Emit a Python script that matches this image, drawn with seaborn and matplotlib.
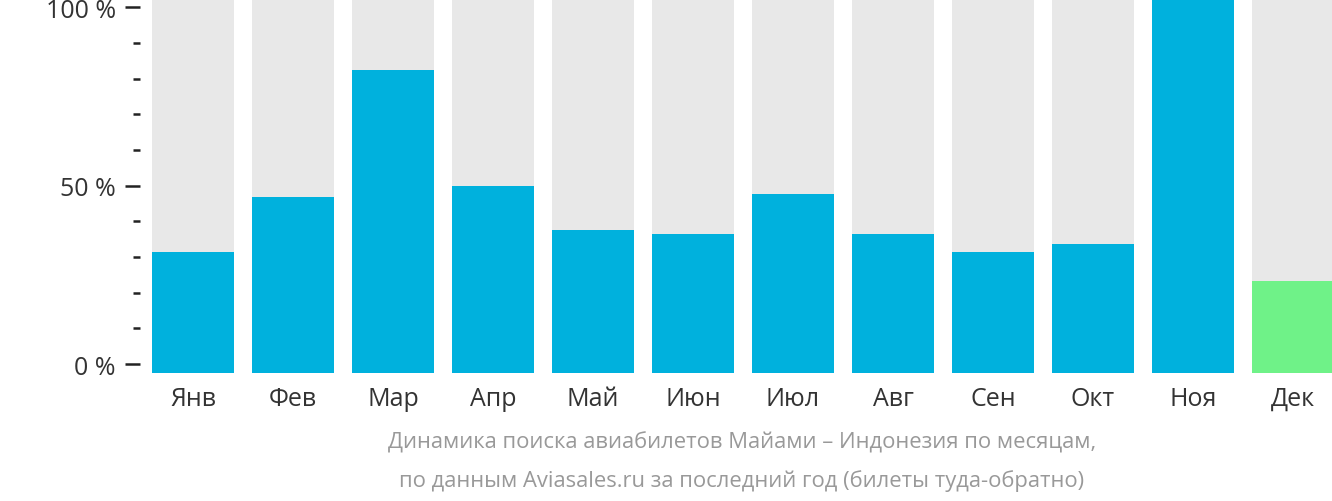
import matplotlib
matplotlib.use("Agg")
import matplotlib.pyplot as plt
import numpy as np
import pandas as pd
import seaborn as sns
from matplotlib.ticker import MultipleLocator, FuncFormatter

months = ['Янв', 'Фев', 'Мар', 'Апр', 'Май', 'Июн', 'Июл', 'Авг', 'Сен', 'Окт', 'Ноя', 'Дек']
share = [31.4, 46.8, 82.4, 49.9, 37.6, 36.4, 47.7, 36.4, 31.4, 33.6, 102.4, 23.3]
current = 'Дек'   # highlighted month
full = [110] * len(months)

blue = '#00b1dd'
green = '#6ff288'
grey = '#e8e8e8'

sns.set_theme(style='white')
plt.rcParams['font.family'] = ['Open Sans', 'DejaVu Sans']

df = pd.DataFrame({'month': months, 'share': share, 'full': full})
pal = {m: (green if m == current else blue) for m in months}

fig = plt.figure(figsize=(13.32, 5.02), dpi=100)
ax = fig.add_axes([152 / 1332, 128 / 502, 1180 / 1332, 374 / 502])

sns.barplot(data=df, x='month', y='full', color=grey, width=0.82, ax=ax, saturation=1)
sns.barplot(data=df, x='month', y='share', hue='month', palette=pal, width=0.82,
            ax=ax, saturation=1, legend=False)

# bars start a little below the zero line
base = -2.52
for p in ax.patches:
    p.set_y(base)
    p.set_height(p.get_height() - base)
    p.set_linewidth(0)

ax.set_xlim(-0.41, 11.39)
ax.set_ylim(base, 102.33)

for s in ax.spines.values():
    s.set_visible(False)
ax.spines['left'].set_position(('outward', 9))

ax.yaxis.set_major_locator(MultipleLocator(50))
ax.yaxis.set_minor_locator(MultipleLocator(10))
ax.yaxis.set_major_formatter(FuncFormatter(lambda v, _: f'{int(v)} %'))
ax.tick_params(axis='y', which='major', left=True, length=11, width=1.8,
               color='#222222', labelsize=18, labelcolor='#333333', pad=6)
ax.tick_params(axis='y', which='minor', left=True, length=5, width=1.8, color='#222222')
ax.tick_params(axis='x', bottom=False, labelsize=18, labelcolor='#333333', pad=3.5)
ax.set_xlabel('')
ax.set_ylabel('')

fig.text(742 / 1332, 1 - 443 / 502,
         'Динамика поиска авиабилетов Майами – Индонезия по месяцам,',
         ha='center', va='center', fontsize=15.8, color='#999999')
fig.text(742 / 1332, 1 - 481 / 502,
         'по данным Aviasales.ru за последний год (билеты туда-обратно)',
         ha='center', va='center', fontsize=15.8, color='#999999')

fig.savefig('out.png', dpi=100)
